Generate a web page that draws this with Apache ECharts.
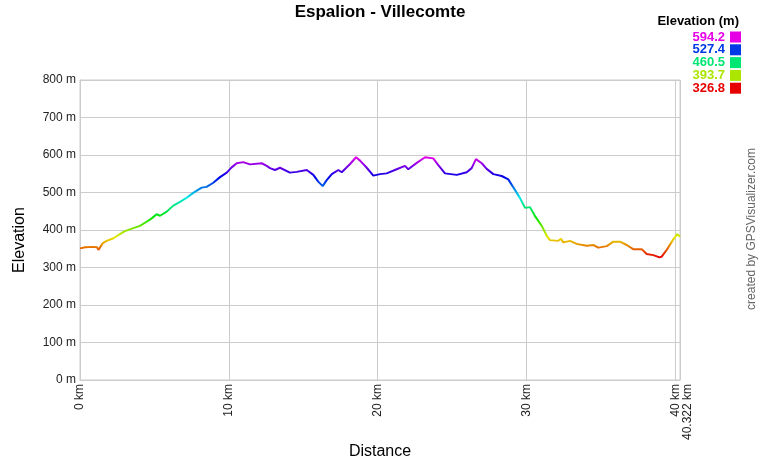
<!DOCTYPE html>
<html><head><meta charset="utf-8">
<script src="https://cdn.jsdelivr.net/npm/echarts@6/dist/echarts.min.js"></script>
<style>html,body{margin:0;padding:0;background:#fff}#c{width:760px;height:460px}</style>
</head><body><div id="c"></div>
<script>
const chartTitle = 'Espalion - Villecomte';
const xAxisName = 'Distance';
const yAxisName = 'Elevation';
const creditText = 'created by GPSVisualizer.com';
const legendTitle = 'Elevation (m)';
const legendValues = [594.2, 527.4, 460.5, 393.7, 326.8];
const elevMin = 326.8, elevMax = 594.2;
const totalKm = 40.322;
const yTicksMax = 800;

const distanceKm = [0, 0.34, 0.81, 1.14, 1.24, 1.34, 1.53, 1.79, 2.24, 2.69, 3.02, 3.58, 4.03, 4.48, 4.82, 5.15, 5.38, 5.83, 6.27, 6.72, 7.17, 7.61, 8.18, 8.51, 8.96, 9.41, 9.86, 10.19, 10.53, 10.97, 11.42, 12.21, 12.55, 12.77, 13.10, 13.44, 14.11, 14.56, 15.24, 15.68, 16.01, 16.31, 16.58, 16.92, 17.36, 17.59, 18.15, 18.55, 18.82, 19.27, 19.71, 20.16, 20.61, 21.28, 21.84, 22.06, 22.63, 23.19, 23.74, 24.08, 24.53, 25.32, 25.99, 26.32, 26.61, 27.0, 27.33, 27.78, 28.34, 28.78, 29.23, 29.57, 29.91, 30.24, 30.58, 31.03, 31.40, 31.59, 32.14, 32.31, 32.48, 32.93, 33.38, 34.05, 34.50, 34.83, 35.40, 35.84, 36.29, 36.74, 37.18, 37.75, 38.08, 38.53, 38.95, 39.09, 39.43, 39.87, 40.14, 40.322];
const elevationM = [351, 354, 355, 354, 347, 347, 365, 371, 378, 389, 397, 405, 411, 422, 431, 442, 438, 449, 465, 475, 486, 499, 513, 515, 526, 541, 553, 567, 578, 581, 575, 578, 571, 565, 560, 566, 553, 555, 560, 547, 529, 517, 533, 549, 560, 554, 576, 594, 585, 566, 545, 549, 551, 562, 571, 562, 579, 594, 591, 573, 551, 547, 554, 565, 589, 578, 563, 549, 544, 535, 507, 485, 459, 461, 437, 411, 382, 373, 371, 377, 367, 371, 363, 358, 360, 353, 357, 369, 369, 360, 349, 349, 336, 333, 327, 329, 347, 375, 389, 382];

function hsvColor(h) {
  const v = 0.9, c = v, hp = h / 60, x = c * (1 - Math.abs(hp % 2 - 1));
  let r = 0, g = 0, b = 0;
  if (hp < 1) { r = c; g = x; } else if (hp < 2) { r = x; g = c; } else if (hp < 3) { g = c; b = x; }
  else if (hp < 4) { g = x; b = c; } else if (hp < 5) { r = x; b = c; } else { r = c; b = x; }
  const f = n => Math.round(n * 255);
  return 'rgb(' + f(r) + ',' + f(g) + ',' + f(b) + ')';
}
function elevColor(e) { return hsvColor((e - elevMin) / (elevMax - elevMin) * 300); }
const rampColors = [];
for (let h = 0; h <= 300; h += 10) rampColors.push(hsvColor(h));

const FONT = "'Liberation Sans', Arial, sans-serif";
const chart = echarts.init(document.getElementById('c'), null, { renderer: 'canvas' });

const graphics = [
  { type: 'text', left: 'center', top: 4, style: { text: chartTitle, font: 'bold 17px ' + FONT, fill: '#000' } },
  { type: 'text', x: 380, y: 452, style: { text: xAxisName, font: '16px ' + FONT, fill: '#000', align: 'center', verticalAlign: 'middle' } },
  { type: 'text', x: 20, y: 240, rotation: Math.PI / 2, style: { text: yAxisName, font: '16px ' + FONT, fill: '#000', align: 'center', verticalAlign: 'middle' } },
  { type: 'text', x: 752, y: 229, rotation: Math.PI / 2, style: { text: creditText, font: '12px ' + FONT, fill: '#666', align: 'center', verticalAlign: 'middle' } },
  { type: 'text', x: 739, y: 21, style: { text: legendTitle, font: 'bold 13px ' + FONT, fill: '#000', align: 'right', verticalAlign: 'middle' } }
];
legendValues.forEach((v, i) => {
  const y = 37 + i * 12.8;
  graphics.push({ type: 'text', x: 725, y: y, style: { text: v.toFixed(1), font: 'bold 13px ' + FONT, fill: elevColor(v), align: 'right', verticalAlign: 'middle' } });
  graphics.push({ type: 'rect', shape: { x: 730, y: y - 5.5, width: 11, height: 11 }, style: { fill: elevColor(v) } });
});

chart.setOption({
  animation: false,
  backgroundColor: '#fff',
  grid: { left: 80, right: 80, top: 80, bottom: 80, show: true, borderColor: '#ccc', borderWidth: 1, backgroundColor: 'transparent' },
  xAxis: {
    type: 'value', min: 0, max: totalKm, interval: 10,
    axisLine: { show: true, lineStyle: { color: '#ccc' } },
    axisTick: { show: false },
    splitLine: { show: true, lineStyle: { color: '#ccc', width: 1 } },
    axisLabel: {
      rotate: 90, margin: 4, fontFamily: FONT, fontSize: 12, color: '#222',
      showMaxLabel: true, hideOverlap: false,
      formatter: v => (Math.abs(v - totalKm) < 1e-6 ? '{far|' + v + ' km}' : v + ' km'),
      rich: { far: { fontFamily: FONT, fontSize: 12, color: '#222', padding: [16, 0, 0, 0] } }
    }
  },
  yAxis: {
    type: 'value', min: 0, max: yTicksMax, interval: 100,
    axisLine: { show: true, lineStyle: { color: '#ccc' } },
    axisTick: { show: false },
    splitLine: { show: true, lineStyle: { color: '#ccc', width: 1 } },
    axisLabel: { margin: 4, fontFamily: FONT, fontSize: 12, color: '#222', formatter: '{value} m' }
  },
  visualMap: {
    show: false, type: 'continuous', dimension: 1, seriesIndex: 0,
    min: elevMin, max: elevMax, inRange: { color: rampColors }
  },
  series: [{
    type: 'line', data: distanceKm.map((d, i) => [d, elevationM[i]]),
    showSymbol: false, symbol: 'none', lineStyle: { width: 2 }, smooth: false
  }],
  graphic: graphics
});
</script></body></html>
